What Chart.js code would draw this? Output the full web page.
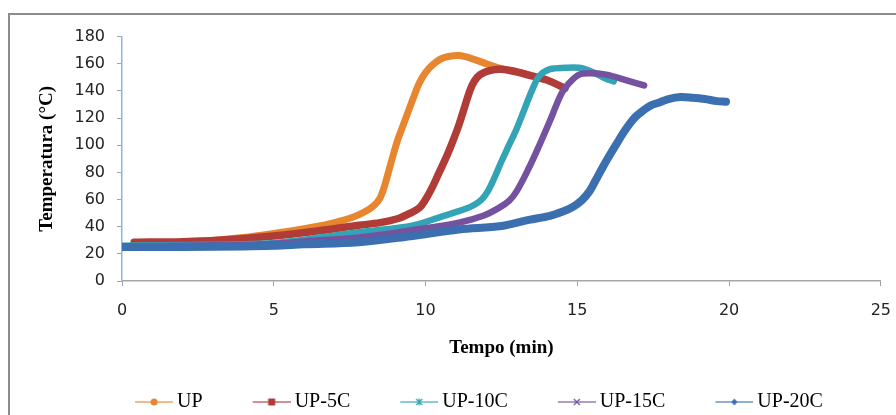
<!DOCTYPE html>
<html lang="pt">
<head>
<meta charset="UTF-8">
<title>Temperatura x Tempo</title>
<script src="https://cdn.jsdelivr.net/npm/chart.js@4.4.1/dist/chart.umd.min.js"></script>
<style>
  html, body { margin: 0; padding: 0; background: #fff; overflow: hidden; }
  #frame { position: absolute; left: 8px; top: 13px; width: 896px; height: 410px;
           border-left: 2px solid #8c8c8c; border-top: 2px solid #8c8c8c; }
  #chart { display: block; }
</style>
</head>
<body>
<div id="frame"><canvas id="chart" width="896" height="407"></canvas></div>
<script>
// series names (legend order)
const seriesNames = ['UP', 'UP-5C', 'UP-10C', 'UP-15C', 'UP-20C'];

// UP
const upTime = [0.5, 2, 3, 4, 5, 6, 6.5, 7, 7.6, 8.0, 8.3, 8.5, 8.65, 8.8, 8.95, 9.1, 9.25, 9.4, 9.6, 9.8, 10.0, 10.25, 10.5, 10.8, 11.1, 11.5, 12.0, 12.5, 13.0, 13.4];
const upTemp = [28, 28.5, 30, 32, 35, 38.5, 40.5, 43, 47, 51, 55.5, 61, 70, 82, 94, 105, 114, 123, 135, 146, 153.5, 159.5, 163.5, 165.5, 166, 164, 160, 156.5, 154, 152];

// UP-5C
const up5Time = [0.4, 2, 3.2, 4.9, 6.5, 7.8, 8.5, 9.1, 9.5, 9.8, 10.0, 10.2, 10.45, 10.7, 10.9, 11.1, 11.3, 11.45, 11.6, 11.8, 12.1, 12.5, 13.0, 13.5, 14.0, 14.6];
const up5Temp = [28.5, 29, 30, 33, 37, 41, 43, 46, 50, 54, 60, 68, 80, 92, 103, 115, 129, 139.5, 147, 152, 155, 156, 154, 151, 148, 142];

// UP-10C
const up10Time = [0, 2, 4, 5, 6.5, 7.8, 9.6, 10.6, 11.3, 11.6, 11.85, 12.05, 12.25, 12.5, 12.75, 13.0, 13.25, 13.5, 13.75, 14.1, 14.6, 15.06, 15.5, 15.95, 16.2];
const up10Temp = [26, 26.5, 27, 28, 32, 36, 41, 48, 53, 56, 60, 66, 75, 88, 100, 112, 126, 140, 151, 156, 157, 157, 154, 149, 147];

// UP-15C
const up15Time = [0, 2, 4, 5, 6.5, 7.8, 9.6, 11.1, 11.9, 12.43, 12.75, 13.0, 13.4, 13.75, 14.1, 14.3, 14.5, 14.74, 15.06, 15.4, 15.95, 16.6, 17.2];
const up15Temp = [25.5, 26, 26.5, 27.5, 30, 32, 37.5, 43, 48, 54, 59, 66, 83, 100, 118, 129, 139, 146, 152, 153, 152, 148, 144];

// UP-20C
const up20Time = [0, 2, 4, 5, 6, 7.8, 9.5, 11.1, 12.5, 13.4, 14.1, 14.5, 14.85, 15.15, 15.4, 15.6, 15.82, 16.05, 16.28, 16.5, 16.7, 16.9, 17.14, 17.4, 17.7, 18.0, 18.4, 18.8, 19.2, 19.6, 19.9];
const up20Temp = [25, 25, 25.5, 26, 27, 28.5, 33, 38, 40.5, 45, 48, 51, 54.5, 59.5, 66, 74, 83, 92, 100.5, 108.5, 115, 120.5, 125, 129, 131.5, 134, 135.5, 135, 134, 132.5, 132];

// axis ticks
const xTicks = [0, 5, 10, 15, 20, 25];
const yTicks = [0, 20, 40, 60, 80, 100, 120, 140, 160, 180];

const colors = ['#e8862f', '#b03b37', '#33a3b6', '#7552a0', '#3b6fb0'];
const markers = ['circle', 'square', 'star', 'cross', 'diamond'];
const widths = [7, 7.5, 6.5, 6.5, 8];

const allTimes = [upTime, up5Time, up10Time, up15Time, up20Time];
const allTemps = [upTemp, up5Temp, up10Temp, up15Temp, up20Temp];

// legend icon: thin line with marker, drawn on a small canvas
const BOX_W = 74;
function makeIcon(color, marker) {
    const c = document.createElement('canvas');
    c.width = BOX_W + 12;
    c.height = 14;
    const g = c.getContext('2d');
    const x0 = BOX_W - 26, x1 = BOX_W + 12, cy = 7, cx = (x0 + x1) / 2;
    g.strokeStyle = color;
    g.globalAlpha = 0.75;
    g.lineWidth = 1.5;
    g.beginPath(); g.moveTo(x0, cy); g.lineTo(x1, cy); g.stroke();
    g.globalAlpha = 1;
    g.fillStyle = color;
    g.lineWidth = 1.3;
    g.beginPath();
    if (marker === 'circle') {
        g.arc(cx, cy, 3.5, 0, Math.PI * 2); g.fill();
    } else if (marker === 'square') {
        g.fillRect(cx - 3.5, cy - 3.5, 7, 7);
    } else if (marker === 'diamond') {
        g.moveTo(cx, cy - 3.5); g.lineTo(cx + 3, cy); g.lineTo(cx, cy + 3.5); g.lineTo(cx - 3, cy); g.closePath(); g.fill();
    } else if (marker === 'cross') {
        g.moveTo(cx - 3, cy - 3); g.lineTo(cx + 3, cy + 3);
        g.moveTo(cx + 3, cy - 3); g.lineTo(cx - 3, cy + 3); g.stroke();
    } else {
        g.moveTo(cx - 3, cy - 3); g.lineTo(cx + 3, cy + 3);
        g.moveTo(cx + 3, cy - 3); g.lineTo(cx - 3, cy + 3);
        g.moveTo(cx, cy - 3.5); g.lineTo(cx, cy + 3.5); g.stroke();
    }
    return c;
}
const icons = colors.map((c, i) => makeIcon(c, markers[i]));

const datasets = seriesNames.map((name, i) => ({
    label: name,
    data: allTimes[i].map((t, j) => ({ x: t, y: allTemps[i][j] })),
    borderColor: colors[i],
    backgroundColor: colors[i],
    borderWidth: widths[i],
    borderCapStyle: 'round',
    borderJoinStyle: 'round',
    pointRadius: 0,
    pointHoverRadius: 0,
    tension: 0.35,
    order: seriesNames.length - i   // later series drawn on top
}));

const tickFont = { family: 'DejaVu Sans', size: 16 };
const titleFont = { family: 'Liberation Serif', size: 19, weight: 'bold' };

new Chart(document.getElementById('chart'), {
    type: 'line',
    data: { datasets: datasets },
    options: {
        responsive: false,
        animation: false,
        layout: { padding: { top: 19, left: 0, right: 0, bottom: 0 } },
        plugins: {
            tooltip: { enabled: false },
            legend: {
                position: 'bottom',
                labels: {
                    usePointStyle: true,
                    pointStyleWidth: BOX_W,
                    padding: 8,
                    color: '#000',
                    font: { family: 'Liberation Serif', size: 20 },
                    generateLabels: chart => chart.data.datasets.map((ds, i) => ({
                        text: ds.label,
                        pointStyle: icons[i],
                        fillStyle: ds.borderColor,
                        strokeStyle: ds.borderColor,
                        lineWidth: 0,
                        hidden: false,
                        fontColor: '#000',
                        datasetIndex: i
                    }))
                }
            }
        },
        scales: {
            x: {
                type: 'linear',
                min: xTicks[0],
                max: xTicks[xTicks.length - 1],
                afterBuildTicks: s => { s.ticks = xTicks.map(v => ({ value: v })); },
                ticks: { padding: 15, color: '#222', font: tickFont },
                grid: { drawOnChartArea: false, drawTicks: true, tickLength: 5, tickColor: '#a0a0a0' },
                border: { color: '#a6a6a6', width: 1.5 },
                title: { display: true, text: 'Tempo (min)', color: '#000', font: titleFont, padding: { top: 0, bottom: 25 } },
                afterFit: s => { s.height = 103; }
            },
            y: {
                min: yTicks[0],
                max: yTicks[yTicks.length - 1],
                afterBuildTicks: s => { s.ticks = yTicks.map(v => ({ value: v })); },
                ticks: { padding: 12, color: '#222', font: tickFont },
                grid: { drawOnChartArea: false, drawTicks: true, tickLength: 5, tickColor: '#9aa6b8' },
                border: { color: '#8db3e2', width: 1.5 },
                title: { display: true, text: 'Temperatura (°C)', color: '#000', font: titleFont, padding: { top: 26, bottom: 0 } },
                afterFit: s => { s.width = 112; }
            },
            y2: {
                position: 'right',
                display: true,
                ticks: { display: false },
                grid: { display: false },
                border: { display: false },
                afterFit: s => { s.width = 24; }
            }
        }
    }
});
</script>
</body>
</html>
